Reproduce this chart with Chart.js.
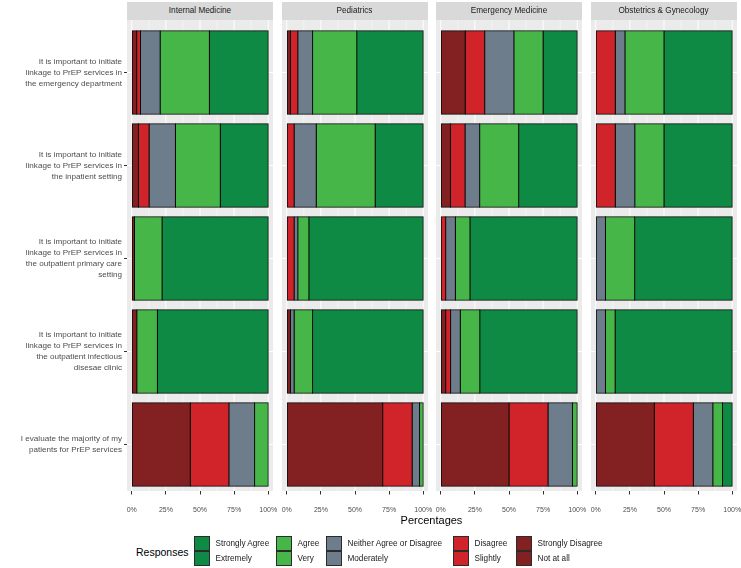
<!DOCTYPE html>
<html><head><meta charset="utf-8">
<script src="https://cdn.jsdelivr.net/npm/chart.js@4.4.1/dist/chart.umd.min.js"></script>
<style>
html,body{margin:0;padding:0;background:#fff;}
body{width:741px;height:568px;position:relative;overflow:hidden;font-family:'Liberation Sans',Arial,sans-serif;}
canvas{position:absolute;top:0;}
.strip{position:absolute;top:2px;height:17.5px;background:#d9d9d9;color:#1a1a1a;font-size:8.2px;text-align:center;line-height:17.5px;z-index:2;white-space:nowrap;}
.xtitle{position:absolute;left:331.5px;width:200px;text-align:center;top:514px;font-size:11px;line-height:13px;color:#000;}
.legtitle{position:absolute;left:136px;top:545.5px;font-size:10.5px;line-height:13px;color:#000;}
.key{position:absolute;width:16px;height:15px;box-sizing:border-box;border:1px solid #2b2b2b;}
.klab{position:absolute;font-size:8.2px;line-height:10px;color:#1a1a1a;white-space:nowrap;}
</style></head><body>
<script>
// ---- data ----
const categories = [
  ["It is important to initiate","linkage to PrEP services in","the emergency department"],
  ["It is important to initiate","linkage to PrEP services in","the inpatient setting"],
  ["It is important to initiate","linkage to PrEP services in","the outpatient primary care","setting"],
  ["It is important to initiate","linkage to PrEP services in","the outpatient infectious","disesae clinic"],
  ["I evaluate the majority of my","patients for PrEP services"]
];
const panelTitles = ["Internal Medicine","Pediatrics","Emergency Medicine","Obstetrics & Gynecology"];
const responseLevels = ["Strongly Disagree","Disagree","Neither Agree or Disagree","Agree","Strongly Agree"];
const xTickValues = [0,25,50,75,100];
const xTickLabels = ["0%","25%","50%","75%","100%"];
const xMinorValues = [12.5,37.5,62.5,87.5];
const legendTopLabels = ["Strongly Agree","Agree","Neither Agree or Disagree","Disagree","Strongly Disagree"];
const legendBottomLabels = ["Extremely","Very","Moderately","Slightly","Not at all"];

// Internal Medicine (percent per category)
const imStronglyDisagree = [3.6, 4.9, 2.0, 3.7, 42.9];
const imDisagree         = [2.8, 7.8, 0, 0, 28.3];
const imNeither          = [14.4, 19.3, 0, 0, 18.8];
const imAgree            = [36.1, 32.9, 20.2, 15.1, 10.0];
const imStronglyAgree    = [43.1, 35.1, 77.8, 81.2, 0];
// Pediatrics
const pedStronglyDisagree = [2.7, 0, 0, 2.7, 70.3];
const pedDisagree         = [5.4, 5.4, 5.4, 0, 21.6];
const pedNeither          = [10.8, 16.2, 2.7, 2.7, 5.4];
const pedAgree            = [32.4, 43.2, 8.1, 13.5, 2.7];
const pedStronglyAgree    = [48.7, 35.2, 83.8, 81.1, 0];
// Emergency Medicine
const emStronglyDisagree = [17.9, 7.1, 0, 3.6, 50.0];
const emDisagree         = [14.3, 10.7, 3.6, 3.6, 28.6];
const emNeither          = [21.4, 10.7, 7.1, 7.1, 17.9];
const emAgree            = [21.4, 28.6, 10.7, 14.3, 3.5];
const emStronglyAgree    = [25.0, 42.9, 78.6, 71.4, 0];
// Obstetrics & Gynecology
const obStronglyDisagree = [0, 0, 0, 0, 42.9];
const obDisagree         = [14.3, 14.3, 0, 0, 28.6];
const obNeither          = [7.1, 14.3, 7.1, 7.1, 14.3];
const obAgree            = [28.6, 21.4, 21.4, 7.1, 7.1];
const obStronglyAgree    = [50.0, 50.0, 71.5, 85.8, 7.1];

// ---- styles / layout ----
const levelColors = ["#832021","#d0232a","#6e7d8c","#46b649","#0f8a45"];
const legendColors = ["#0f8a45","#46b649","#6e7d8c","#d0232a","#832021"];
const panelLeft = [127, 281.5, 436, 590.5];
const panelWidth = 146;
const STRIP_BOTTOM = 19.5;
const CHART_TOP = 26;
const CANVAS_H = 516;

Chart.defaults.font.family = "'Liberation Sans', Arial, sans-serif";

const panelSeries = [
  [imStronglyDisagree, imDisagree, imNeither, imAgree, imStronglyAgree],
  [pedStronglyDisagree, pedDisagree, pedNeither, pedAgree, pedStronglyAgree],
  [emStronglyDisagree, emDisagree, emNeither, emAgree, emStronglyAgree],
  [obStronglyDisagree, obDisagree, obNeither, obAgree, obStronglyAgree]
];

const panelBg = {
  id: 'panelBg',
  beforeDraw(chart) {
    const {ctx, chartArea: a, scales: {x}} = chart;
    ctx.save();
    ctx.fillStyle = '#ebebeb';
    ctx.fillRect(a.left, STRIP_BOTTOM, a.right - a.left, a.bottom - STRIP_BOTTOM);
    ctx.strokeStyle = '#ffffff';
    ctx.lineWidth = 0.5;
    xMinorValues.forEach(v => {
      const px = x.getPixelForValue(v);
      ctx.beginPath(); ctx.moveTo(px, STRIP_BOTTOM); ctx.lineTo(px, a.bottom); ctx.stroke();
    });
    ctx.lineWidth = 1;
    xTickValues.forEach(v => {
      const px = x.getPixelForValue(v);
      ctx.beginPath(); ctx.moveTo(px, STRIP_BOTTOM); ctx.lineTo(px, a.bottom); ctx.stroke();
    });
    ctx.restore();
  }
};

panelTitles.forEach((title, i) => {
  const first = i === 0;
  const padL = first ? 0 : 10;
  const padR = 10;
  const cv = document.createElement('canvas');
  const w = first ? panelLeft[0] + panelWidth + padR : padL + panelWidth + padR;
  cv.width = w; cv.height = CANVAS_H;
  cv.style.left = (first ? 0 : panelLeft[i] - padL) + 'px';
  cv.style.width = w + 'px'; cv.style.height = CANVAS_H + 'px';
  document.body.appendChild(cv);

  const strip = document.createElement('div');
  strip.className = 'strip';
  strip.style.left = panelLeft[i] + 'px';
  strip.style.width = panelWidth + 'px';
  strip.textContent = title;
  document.body.appendChild(strip);

  new Chart(cv, {
    type: 'bar',
    data: {
      labels: categories,
      datasets: responseLevels.map((lvl, k) => ({
        label: lvl,
        data: panelSeries[i][k],
        backgroundColor: levelColors[k],
        borderColor: '#0a0a0a',
        borderWidth: 1,
        inflateAmount: 0.5,
        borderSkipped: false,
        barPercentage: 0.9,
        categoryPercentage: 1.0
      }))
    },
    options: {
      indexAxis: 'y',
      responsive: false,
      maintainAspectRatio: false,
      animation: false,
      devicePixelRatio: 1,
      layout: {padding: {left: padL, right: padR, top: CHART_TOP, bottom: 0}},
      plugins: {legend: {display: false}, tooltip: {enabled: false}, title: {display: false}},
      scales: {
        x: {
          stacked: true,
          min: -3.5, max: 103.5,
          border: {display: false},
          grid: {display: true, drawOnChartArea: false, drawTicks: true, tickLength: 3.5, tickColor: '#333333', tickWidth: 1},
          afterBuildTicks: s => { s.ticks = xTickValues.map(v => ({value: v})); },
          ticks: {
            autoSkip: false, maxRotation: 0, minRotation: 0,
            padding: 11, color: '#4d4d4d', font: {size: 7},
            callback: (v, idx) => xTickLabels[idx]
          },
          afterFit: s => { s.height = CANVAS_H - 491; s.paddingLeft = 0; s.paddingRight = 0; }
        },
        y: {
          stacked: true,
          border: {display: false},
          grid: {display: true, offset: false, color: '#ffffff', lineWidth: 1, drawOnChartArea: true,
                 drawTicks: first, tickLength: 3, tickColor: '#333333', tickWidth: 1},
          ticks: {display: first, padding: 2, color: '#4d4d4d', font: {size: 8.1, lineHeight: 1.36}, autoSkip: false},
          afterFit: s => { s.width = first ? panelLeft[0] : 0; s.paddingTop = 0; s.paddingBottom = 0; }
        }
      }
    },
    plugins: [panelBg]
  });
});

// axis title
const xt = document.createElement('div');
xt.className = 'xtitle'; xt.textContent = 'Percentages';
document.body.appendChild(xt);

// legend
const lt = document.createElement('div');
lt.className = 'legtitle'; lt.textContent = 'Responses';
document.body.appendChild(lt);
const keyLeft = [194, 276, 326, 453, 516];
legendTopLabels.forEach((lab, k) => {
  [[lab, 535.5, 538.5], [legendBottomLabels[k], 551, 554]].forEach(([txt, top, ttop]) => {
    const b = document.createElement('div');
    b.className = 'key';
    b.style.left = keyLeft[k] + 'px'; b.style.top = top + 'px';
    b.style.background = legendColors[k];
    document.body.appendChild(b);
    const t = document.createElement('div');
    t.className = 'klab';
    t.style.left = (keyLeft[k] + 21.5) + 'px'; t.style.top = ttop + 'px';
    t.textContent = txt;
    document.body.appendChild(t);
  });
});
</script>
</body></html>
